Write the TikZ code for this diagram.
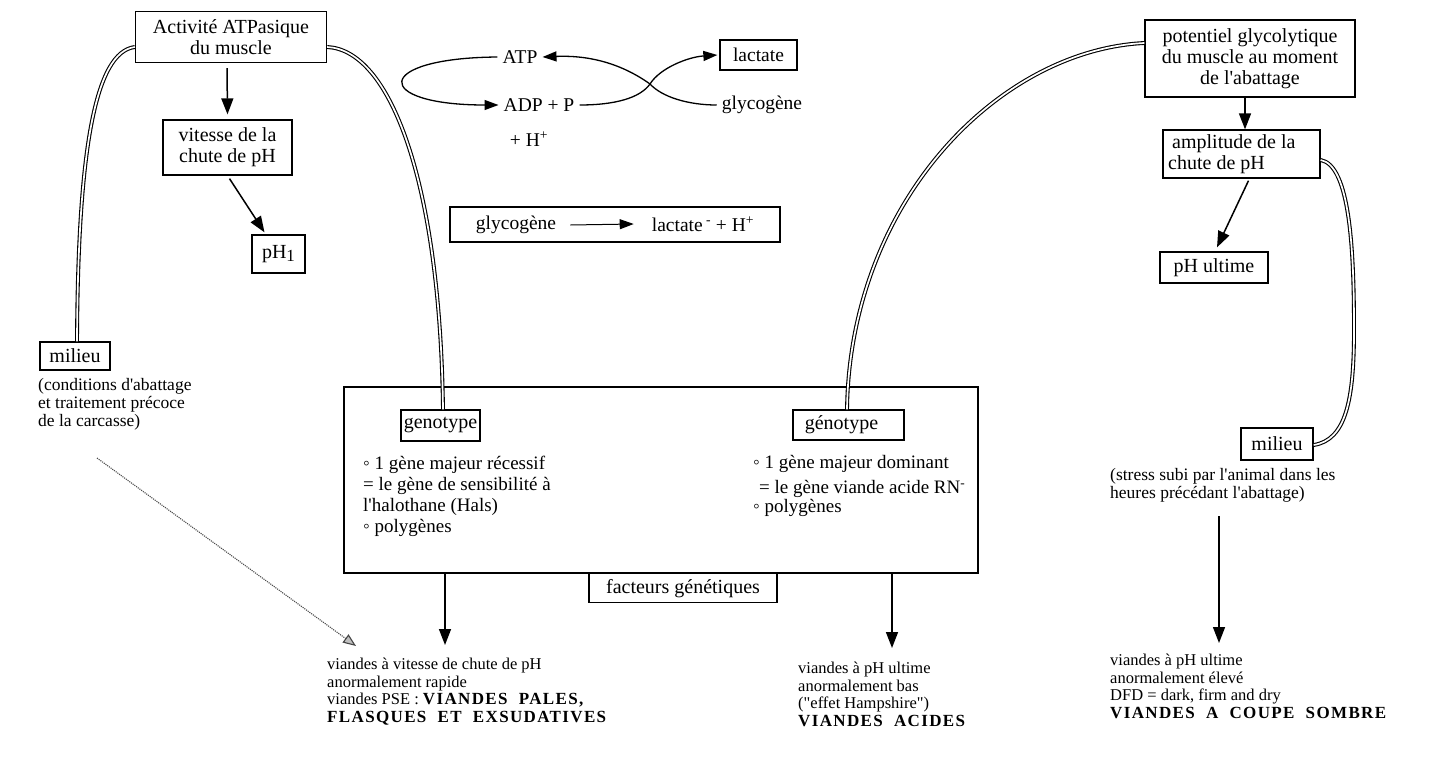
\documentclass[tikz,border=0pt]{standalone}
\usepackage{fontspec}
\setmainfont{Liberation Serif}[Ligatures=TeXOff]
\usetikzlibrary{arrows.meta}
\tikzset{
 box/.style={draw, line width=1.3pt, inner sep=0pt, font=\fontsize{20}{21}\selectfont, align=center},
 lbl/.style={inner sep=5pt, font=\fontsize{19.5}{21}\selectfont},
 gene/.style={inner sep=0pt, anchor=north west, align=left, font=\fontsize{19}{21}\selectfont},
 captxt/.style={inner sep=0pt, anchor=north west, align=left, font=\fontsize{17.5}{18}\selectfont},
 restxt/.style={inner sep=0pt, anchor=north west, align=left, font=\fontsize{16.5}{17.5}\selectfont},
 arr/.style={line width=1.5pt, -{Triangle[length=16pt,width=12pt]}},
 tarr/.style={line width=1.3pt, -{Triangle[length=14pt,width=10pt]}},
 thinline/.style={line width=1.3pt},
 dbl/.style={draw, line width=1.1pt, double=white, double distance=1.7pt},
 dotarr/.style={densely dotted, line width=1.1pt, gray!60!black, -{Triangle[length=13pt,width=10pt,fill=gray!50,color=gray!55!black]}},
}
\newcommand{\bcaps}[1]{{\fontsize{17}{17.5}\selectfont\bfseries\addfontfeature{LetterSpace=8}#1}}
\begin{document}
\begin{tikzpicture}[x=1pt,y=-1pt]
\fill[white] (0,0) rectangle (1450,758);
\useasboundingbox (0,0) rectangle (1450,758);

% ---------- left column
\node[box, minimum width=191pt, minimum height=51pt] (atpase) at (231,37) {Activité ATPasique\\du muscle};
\node[box, minimum width=129pt, minimum height=55pt] (vitesse) at (227.5,147.5) {vitesse de la\\chute de pH};
\node[box, minimum width=53pt, minimum height=38pt] (ph1) at (278.5,254) {pH\raisebox{-3pt}{\fontsize{17}{17}\selectfont 1}};
\node[box, minimum width=70pt, minimum height=28pt] (milL) at (75,356) {milieu};
\node[captxt] (capL) at (38,378) {(conditions d'abattage\\et traitement précoce\\de la carcasse)};

\draw[arr] ([xshift=-4pt,yshift=-5pt]atpase.south) -- ([yshift=5pt]vitesse.north);
\draw[arr] ([xshift=2pt,yshift=-3pt]vitesse.south) -- ([xshift=-14pt,yshift=2pt]ph1.north);

% ---------- ATP cycle
\node[lbl] (atp) at (520,57) {ATP};
\node[lbl] (adp) at (539,105) {ADP + P};
\node[lbl, inner sep=0pt] (hplus) at (529,139) {+ H\textsuperscript{+}};
\node[box, font=\fontsize{19.5}{21}\selectfont, minimum width=77pt, minimum height=30pt] (lact) at (758.5,55) {lactate};
\node[lbl] (glyco) at (762,105) {glycogène};
\coordinate (X) at (650,84);
\draw[tarr] (X) .. controls (622,64) and (590,55) .. (atp.east);
\draw[tarr] (atp.west) .. controls (372,58) and (372,105) .. (adp.west);
\draw[thinline] (adp.east) .. controls (615,105) and (640,98) .. (X);
\draw[thinline] (glyco.west) .. controls (688,105) and (662,97) .. (X);
\draw[tarr] (X) .. controls (660,68) and (688,57) .. ([xshift=-2pt]lact.west);

\node[box, minimum width=330pt, minimum height=35pt] (eqbox) at (615,224.5) {};
\node[lbl, inner sep=0pt] (gly2) at (516,225) {glycogène};
\node[lbl, inner sep=0pt] (lac2) at (703,224) {lactate\,\textsuperscript{-} + H\textsuperscript{+}};
\draw[tarr, line width=1pt] ([xshift=14pt]gly2.east) -- ([xshift=-18pt]lac2.west);

% ---------- right column
\node[box, minimum width=210pt, minimum height=77pt] (pot) at (1250,58.5) {potentiel glycolytique\\du muscle au moment\\de l'abattage};
\node[box, minimum width=157pt, minimum height=48pt, align=left] (ampl) at (1241.5,154) {\hspace*{4pt}amplitude de la\\chute de pH\hspace*{50pt}};
\node[box, minimum width=108pt, minimum height=31pt] (phu) at (1214,267.5) {pH ultime};
\node[box, minimum width=72pt, minimum height=32pt] (milR) at (1277,444) {milieu};
\node[captxt] (stress) at (1110,468) {(stress subi par l'animal dans les\\heures précédant l'abattage)};

\draw[arr] ([xshift=-5pt]pot.south) -- ([xshift=3.5pt]ampl.north);
\draw[arr] ([xshift=7pt,yshift=-2pt]ampl.south) -- ([xshift=3pt,yshift=4pt]phu.north);

% ---------- genetic factors box
\node[draw, line width=1.3pt, minimum width=634pt, minimum height=186pt, inner sep=0pt] (big) at (661,480) {};
\node[box, minimum width=79pt, minimum height=31pt] (genL) at (440.5,425.5) {genotype};
\node[box, minimum width=111pt, minimum height=30pt] (genR) at (848.5,425) {génotype\hspace*{14pt}};
\node[gene] (gtxtL) at (363,456) {◦ 1 gène majeur récessif\\= le gène de sensibilité à\\l'halothane (Hals)\\◦ polygènes};
\node[gene] (gtxtR) at (753,455) {◦ 1 gène majeur dominant\\[4pt]\hspace*{6pt}= le gène viande acide RN\textsuperscript{-}\\[-2pt]◦ polygènes};
\node[box, minimum width=188pt, minimum height=29pt, anchor=north] (fact) at (683,573) {facteurs génétiques};

% ---------- double connectors
\draw[dbl] (atpase.west |- 0,47) .. controls (95,52) and (78,150) .. (milL.north -| 77,0);
\draw[dbl] (atpase.east |- 0,47) .. controls (390,50) and (440,180) .. (genL.north -| 443,0);
\draw[dbl] (pot.west |- 0,43) .. controls (1000,50) and (850,200) .. (genR.north -| 847,0);
\draw[dbl] (ampl.east |- 0,160) .. controls (1350,165) and (1354,250) .. (1354,330) .. controls (1354,400) and (1346,440) .. (milR.east |- 0,445);

% ---------- results
\node[restxt] (pse) at (327,658) {viandes à vitesse de chute de pH\\anormalement rapide\\viandes PSE : \bcaps{VIANDES\ \ PALES,}\\\bcaps{FLASQUES\ \ ET\ \ EXSUDATIVES}};
\node[restxt] (acid) at (798,662) {viandes à pH ultime\\anormalement bas\\("effet Hampshire")\\\bcaps{VIANDES\ \ ACIDES}};
\node[restxt] (dfd) at (1110,654) {viandes à pH ultime\\anormalement élevé\\DFD = dark, firm and dry\\\bcaps{VIANDES\ \ A\ \ COUPE\ \ SOMBRE}};

\draw[arr] (big.south -| 445,0) -- (445,645);
\draw[arr] (big.south -| 892,0) -- (892,648);
\draw[arr] ([yshift=-14pt]stress.south -| 1219,0) -- (1219,643);

\coordinate (dotS) at (97,458);
\coordinate (dotE) at (356,646);
\draw[dotarr] (dotS) -- (dotE);
\end{tikzpicture}
\end{document}
